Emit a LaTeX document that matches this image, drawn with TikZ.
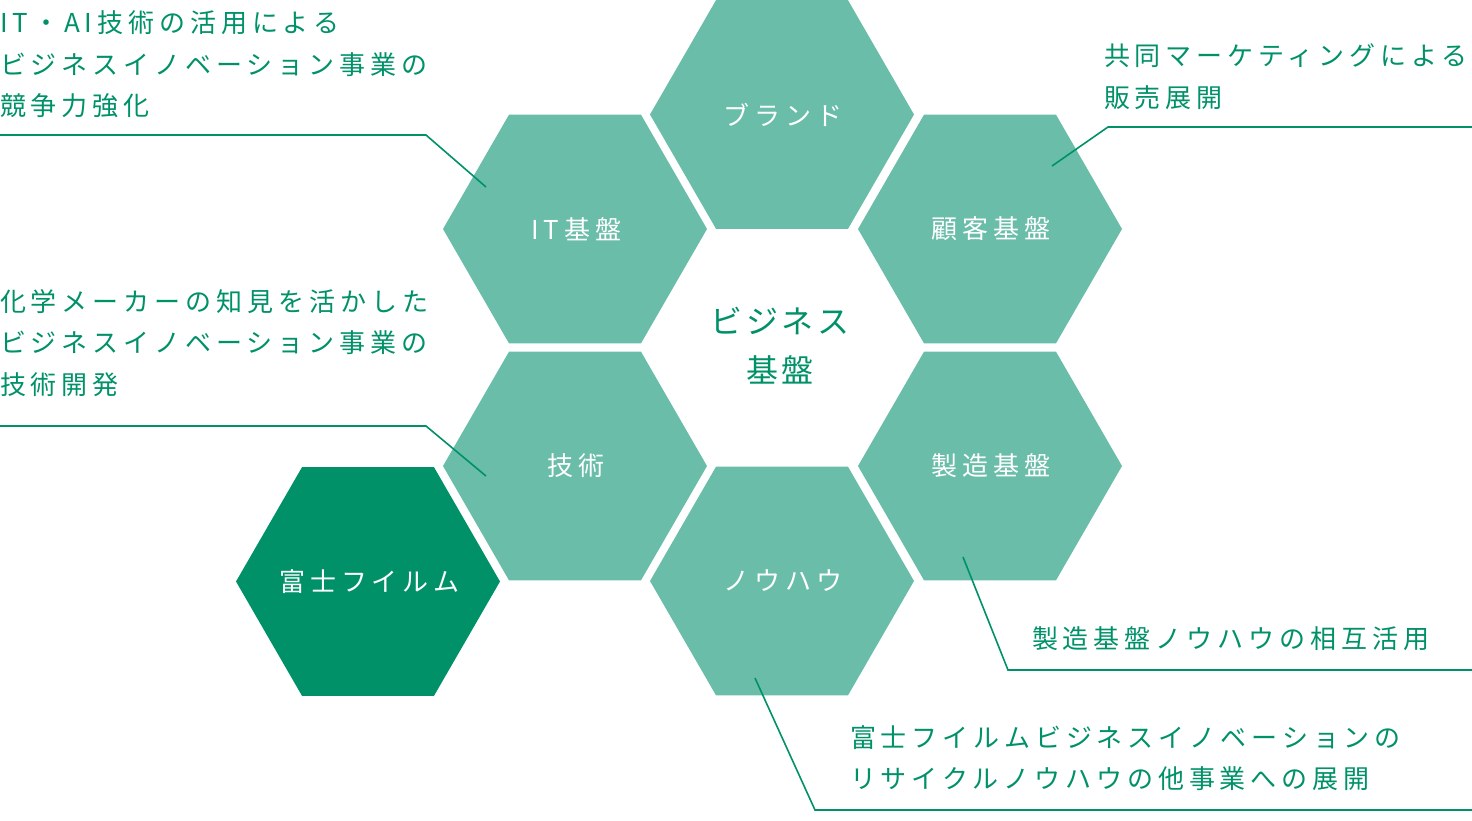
\documentclass[tikz,border=0pt]{standalone}
\usepackage{fontspec}
\setmainfont{Noto Sans CJK JP}
\newfontfamily\jplbl[LetterSpace=19]{Noto Sans CJK JP}
\newfontfamily\jpmid[LetterSpace=12]{Noto Sans CJK JP}
\usetikzlibrary{shapes.geometric}
\definecolor{hexlight}{HTML}{69BDA9}
\definecolor{hexdark}{HTML}{009169}
\definecolor{fgreen}{HTML}{009169}
\newcommand\lbllines[1]{\begin{tabular}[t]{@{}l@{}}#1\end{tabular}}
\newcommand\hextext[1]{\makebox[0pt][c]{\hspace*{2.5pt}#1}}
\tikzset{
  hexbox/.style={regular polygon, regular polygon sides=6, minimum size=264pt,
    inner sep=0pt, outer sep=0pt, fill=hexlight, text=white,
    font={\jplbl\fontsize{26pt}{30pt}\selectfont}},
  hexmain/.style={hexbox, fill=hexdark},
  sidelbl/.style={anchor=base west, inner sep=0pt, outer sep=0pt, text=fgreen,
    font={\jplbl\fontsize{26pt}{41.5pt}\selectfont}},
  midlbl/.style={inner sep=0pt, text=fgreen, align=center,
    font={\jpmid\fontsize{32pt}{49pt}\selectfont}},
  leader/.style={draw=fgreen, line width=1.6pt}
}
\begin{document}
\begin{tikzpicture}[x=1pt,y=-1pt]
\useasboundingbox (0,0) rectangle (1472,820);
% hexagons
\node[hexbox] (brand) at (782,114.5) {\hextext{ブランド}};
\node[hexbox] (itbase) at (575,229) {\hextext{IT基盤}};
\node[hexbox] (cust) at (990,229) {\hextext{顧客基盤}};
\node[hexbox] (tech) at (575,466) {\hextext{技術}};
\node[hexbox] (mfg) at (990,466) {\hextext{製造基盤}};
\node[hexbox] (know) at (782,581) {\hextext{ノウハウ}};
\node[hexmain] (fuji) at (368,581.5) {\hextext{富士フイルム}};
\node[midlbl] (center) at (780,346) {ビジネス\\基盤};
% labels
\node[sidelbl] (itlbl) at (0,32.5) {\lbllines{IT・AI技術の活用による\\ビジネスイノベーション事業の\\競争力強化}};
\node[sidelbl] (techlbl) at (0,311) {\lbllines{化学メーカーの知見を活かした\\ビジネスイノベーション事業の\\技術開発}};
\node[sidelbl] (custlbl) at (1104,65.5) {\lbllines{共同マーケティングによる\\販売展開}};
\node[sidelbl] (mfglbl) at (1032,648) {\lbllines{製造基盤ノウハウの相互活用}};
\node[sidelbl] (knowlbl) at (850,747) {\lbllines{富士フイルムビジネスイノベーションの\\リサイクルノウハウの他事業への展開}};
% leader coordinates
\coordinate (itL) at (0,135);
\coordinate (itK) at (426,135);
\coordinate (itE) at (486,187);
\coordinate (techL) at (0,426);
\coordinate (techK) at (426,426);
\coordinate (techE) at (486,476);
\coordinate (custR) at (1472,127);
\coordinate (custK) at (1108,127);
\coordinate (custE) at (1052,166);
\coordinate (mfgE) at (963,557);
\coordinate (mfgK) at (1008,670);
\coordinate (mfgR) at (1472,670);
\coordinate (knowE) at (755,678);
\coordinate (knowK) at (815,810);
\coordinate (knowR) at (1472,810);
\draw[leader] (itL) -- (itK) -- (itE);
\draw[leader] (techL) -- (techK) -- (techE);
\draw[leader] (custR) -- (custK) -- (custE);
\draw[leader] (mfgE) -- (mfgK) -- (mfgR);
\draw[leader] (knowE) -- (knowK) -- (knowR);
\end{tikzpicture}
\end{document}
